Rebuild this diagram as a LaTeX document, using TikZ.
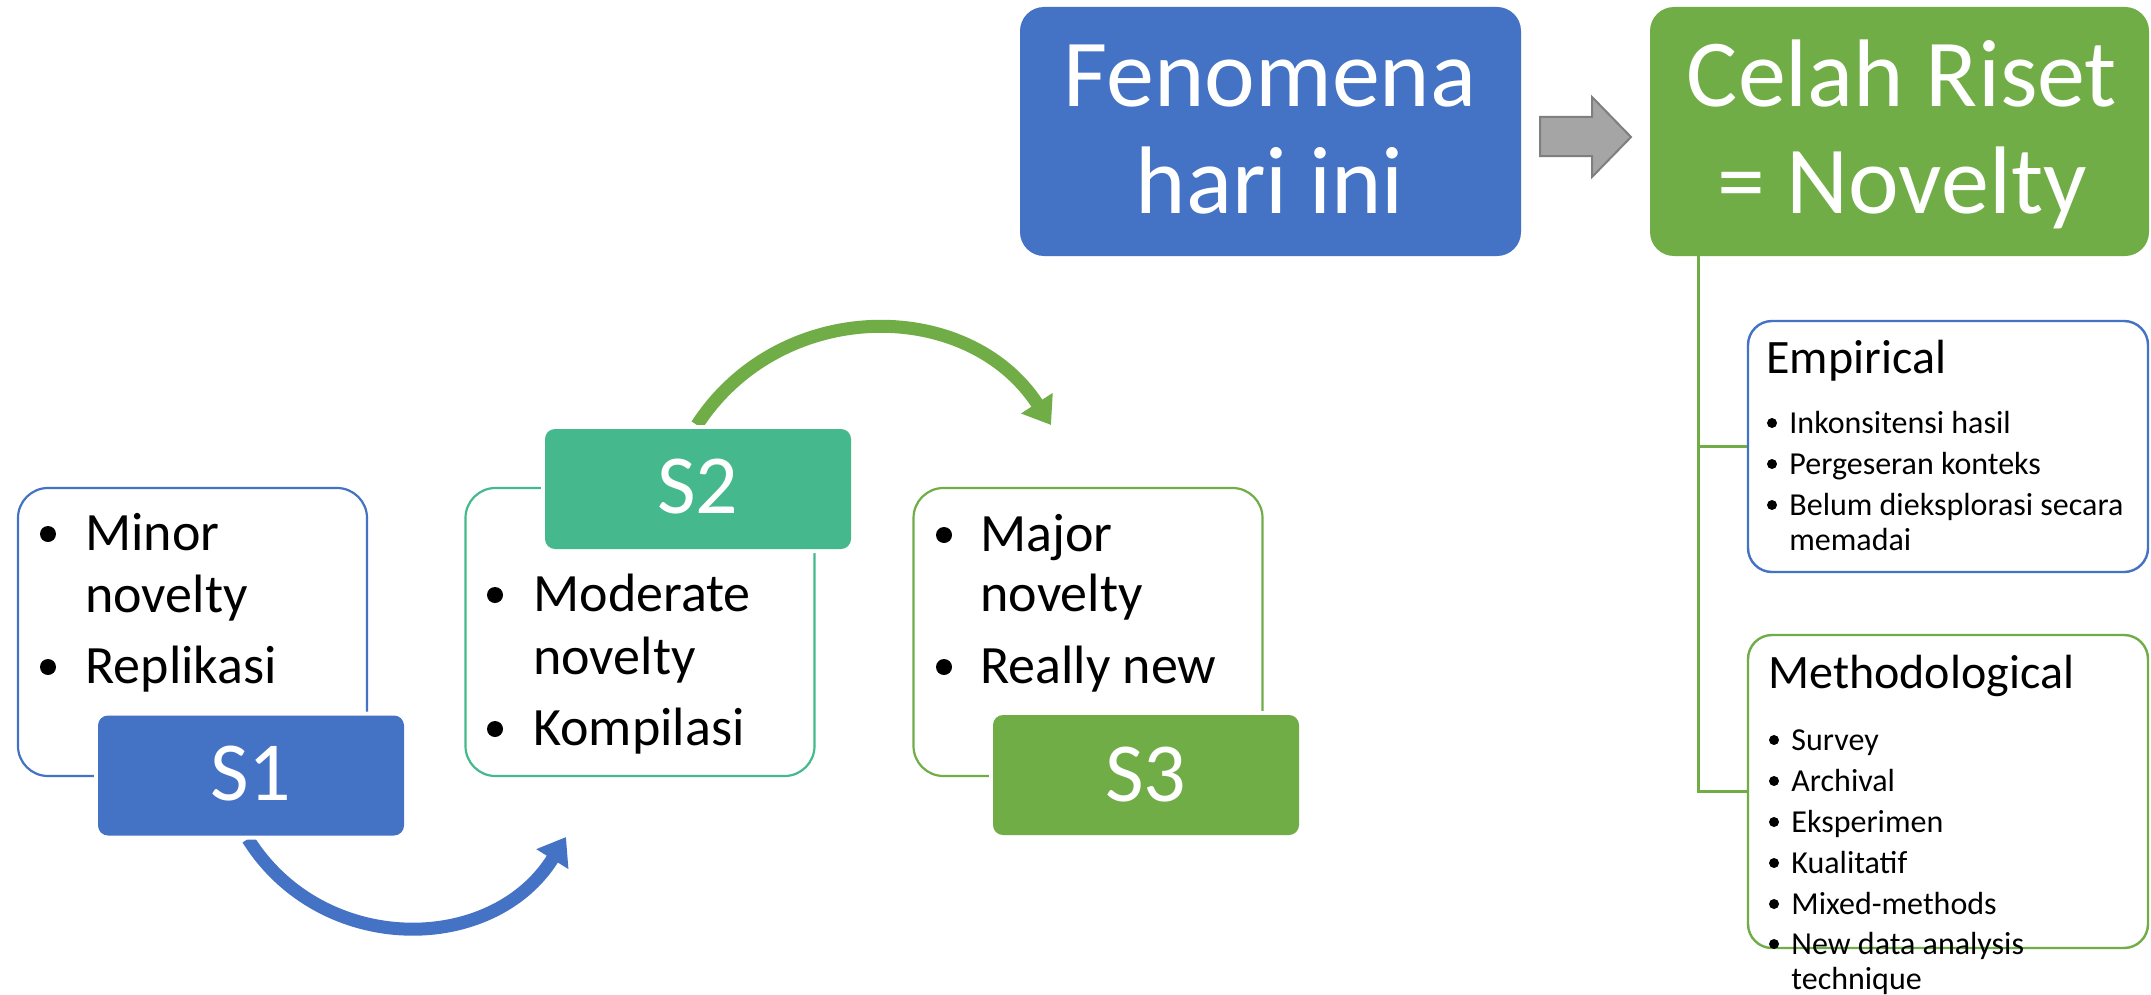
\documentclass[tikz,border=0pt]{standalone}
\usepackage{fontspec}
\setmainfont{Carlito}
\usetikzlibrary{arrows.meta}
\definecolor{cblue}{HTML}{4472C4}
\definecolor{cgreen}{HTML}{70AD47}
\definecolor{cteal}{HTML}{45B98D}
\definecolor{cgray}{HTML}{A5A5A5}
\definecolor{cgrayd}{HTML}{7F7F7F}
\begin{document}
\begin{tikzpicture}[x=0.5pt,y=-0.5pt,
  bigbox/.style={rectangle, rounded corners=12pt, inner sep=0pt, minimum height=124.5pt},
  sbox/.style={rectangle, rounded corners=5pt, inner sep=0pt, minimum width=153pt, minimum height=60pt, preaction={draw=white, line width=4pt}},
  obox/.style={rectangle, rounded corners=15pt, inner sep=0pt, line width=1.1pt, minimum width=174.5pt, minimum height=144pt, fill=white},
  rbox/.style={rectangle, rounded corners=12pt, inner sep=0pt, line width=1.2pt, minimum width=200pt, fill=white},
  bigtxt/.style={text=white, font=\fontsize{48}{56}\selectfont, inner sep=0pt, anchor=base},
  stxt/.style={text=white, font=\fontsize{42}{50}\selectfont, inner sep=0pt, anchor=base},
  ltxt/.style={font=\fontsize{27}{32}\selectfont, inner sep=0pt, anchor=base west},
  lbul/.style={circle, fill=black, inner sep=0pt, minimum size=8pt},
  ttl/.style={font=\fontsize{24}{29}\selectfont, inner sep=0pt, anchor=base west},
  rtxt/.style={font=\fontsize{16}{19}\selectfont, inner sep=0pt, anchor=base west},
  rbul/.style={circle, fill=black, inner sep=0pt, minimum size=5pt},
  conn/.style={draw=cgreen, line width=1.5pt},
  carrow/.style={line width=6.5pt, -{Triangle[width=18pt,length=13pt]}}
]
\useasboundingbox (0,0) rectangle (2151,995);
\fill[white] (0,0) rectangle (2151,995);

% ---- top boxes ----
\node[bigbox, fill=cblue, minimum width=250.5pt] (fen) at (1270.5,131.5) {};
\node[bigtxt] (fen1) at (1270,106) {Fenomena};
\node[bigtxt] (fen2) at (1270,213) {hari ini};

\node[bigbox, fill=cgreen, minimum width=249.5pt] (cel) at (1899.5,131.5) {};
\node[bigtxt] (cel1) at (1902,106) {Celah Riset};
\node[bigtxt] (cel2) at (1902,213) {= Novelty};

\draw[draw=cgrayd, fill=cgray, line width=1pt]
  (1540,117) -- (1592,117) -- (1592,97) -- (1631,137) -- (1592,177) -- (1592,156) -- (1540,156) -- cycle;

% ---- right tree ----
\coordinate (t0) at (1698,256);
\coordinate (t1) at (1698,446.5);
\coordinate (t2) at (1698,791.5);
\node[rbox, draw=cblue, minimum height=125.5pt] (emp) at (1948,446.5) {};
\node[rbox, draw=cgreen, minimum height=156.5pt] (meth) at (1948,791.5) {};
\draw[conn] (t0) -- (t2) -- (meth.west);
\draw[conn] (t1) -- (emp.west);

\node[ttl] (empt) at (1766,373) {Empirical};
\node[rbul] (eb1) at (1772,423) {};
\node[rtxt] (e1) at (1789,433) {Inkonsitensi hasil};
\node[rbul] (eb2) at (1772,464) {};
\node[rtxt] (e2) at (1789,474) {Pergeseran konteks};
\node[rbul] (eb3) at (1772,505) {};
\node[rtxt] (e3) at (1789,515) {Belum dieksplorasi secara};
\node[rtxt] (e4) at (1789,550) {memadai};

\node[ttl] (metht) at (1768,688) {Methodological};
\node[rbul] (mb1) at (1774,740) {};
\node[rtxt] (m1) at (1791,750) {Survey};
\node[rbul] (mb2) at (1774,781) {};
\node[rtxt] (m2) at (1791,791) {Archival};
\node[rbul] (mb3) at (1774,822) {};
\node[rtxt] (m3) at (1791,832) {Eksperimen};
\node[rbul] (mb4) at (1774,863) {};
\node[rtxt] (m4) at (1791,873) {Kualitatif};
\node[rbul] (mb5) at (1774,904) {};
\node[rtxt] (m5) at (1791,914) {Mixed-methods};
\node[rbul] (mb6) at (1774,944) {};
\node[rtxt] (m6) at (1791,954) {New data analysis};
\node[rtxt] (m7) at (1791,989) {technique};

% ---- curved arrows ----
\coordinate (ba0) at (248,839);
\coordinate (ba1) at (566,837);
\draw[carrow, cblue] (ba0) .. controls (322,957) and (493,955) .. (ba1);
\coordinate (ga0) at (697,425);
\coordinate (ga1) at (1051,425);
\draw[carrow, cgreen] (ga0) .. controls (780,297) and (968,297) .. (ga1);

% ---- S1 ----
\node[obox, draw=cblue] (o1) at (192.5,632) {};
\node[lbul] (s1b1) at (48,534) {};
\node[ltxt] (s1t1) at (85,550) {Minor};
\node[ltxt] (s1t2) at (85,612) {novelty};
\node[lbul] (s1b2) at (48,667) {};
\node[ltxt] (s1t3) at (85,683) {Replikasi};
\node[sbox, fill=cblue] (s1) at (251,775.5) {};
\node[stxt] (s1l) at (251,800) {S1};

% ---- S2 ----
\node[obox, draw=cteal] (o2) at (640,632) {};
\node[lbul] (s2b1) at (495,595) {};
\node[ltxt] (s2t1) at (533,611) {Moderate};
\node[ltxt] (s2t2) at (533,674) {novelty};
\node[lbul] (s2b2) at (495,729) {};
\node[ltxt] (s2t3) at (533,745) {Kompilasi};
\node[sbox, fill=cteal] (s2) at (698,489) {};
\node[stxt] (s2l) at (698,513) {S2};

% ---- S3 ----
\node[obox, draw=cgreen] (o3) at (1088,632) {};
\node[lbul] (s3b1) at (944,535) {};
\node[ltxt] (s3t1) at (980,551) {Major};
\node[ltxt] (s3t2) at (980,611) {novelty};
\node[lbul] (s3b2) at (944,667) {};
\node[ltxt] (s3t3) at (980,683) {Really new};
\node[sbox, fill=cgreen] (s3) at (1146,775) {};
\node[stxt] (s3l) at (1146,801) {S3};
\end{tikzpicture}
\end{document}
